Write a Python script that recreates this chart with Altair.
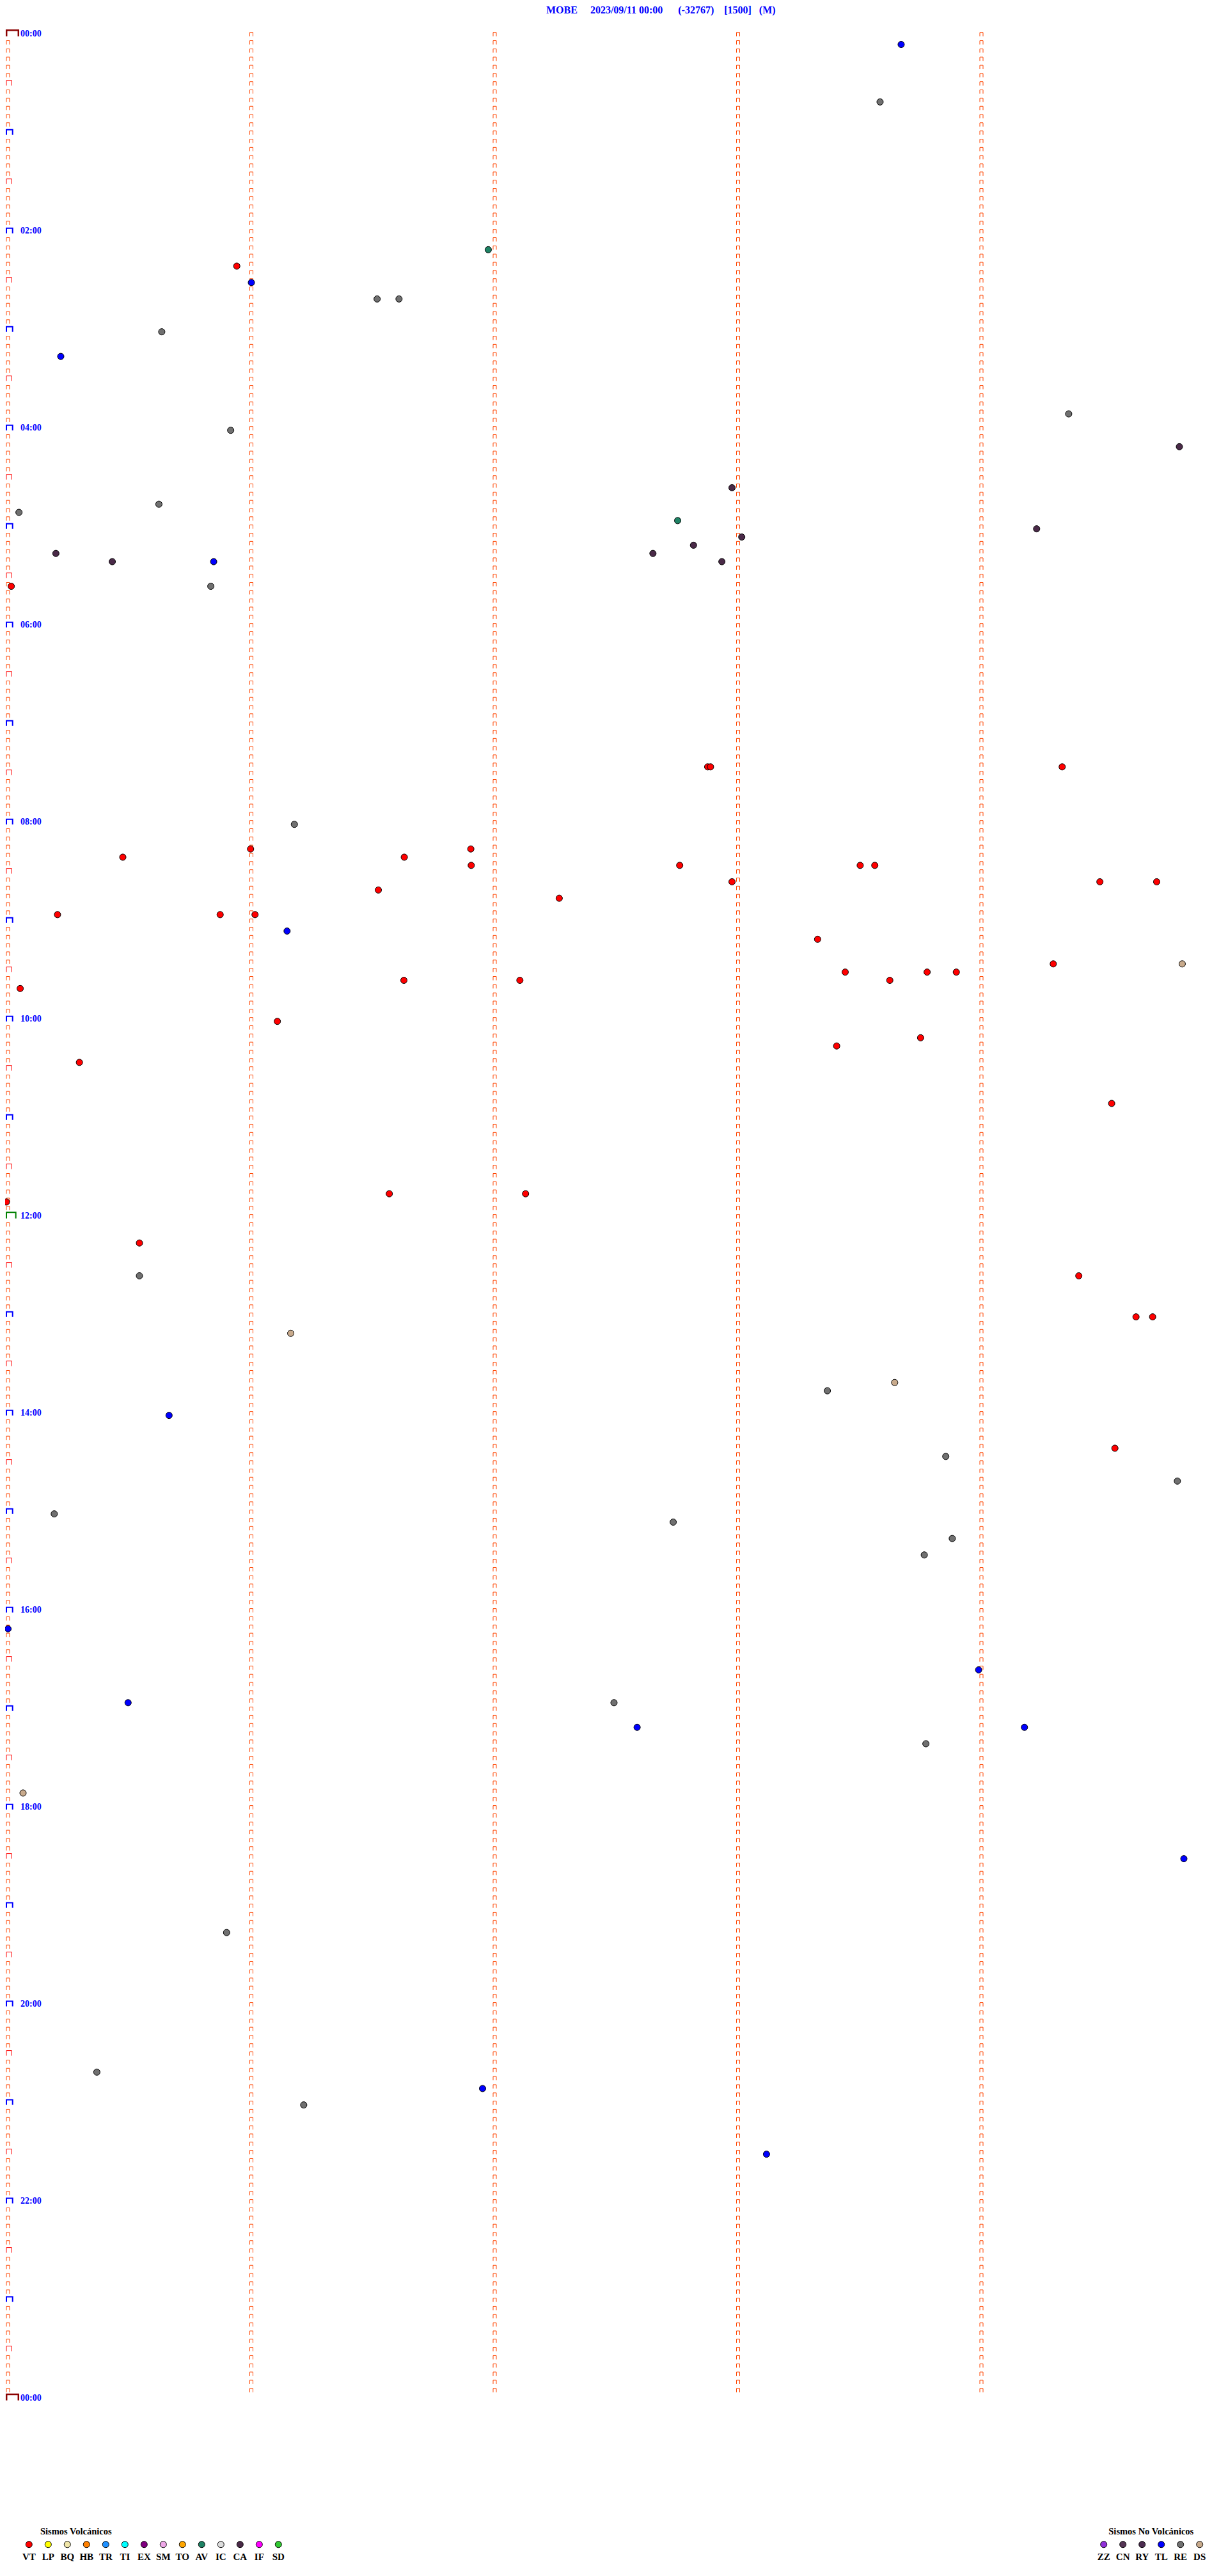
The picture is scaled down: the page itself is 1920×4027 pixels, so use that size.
import altair as alt
import pandas as pd

alt.data_transformers.disable_max_rows()

NB = "\u00a0"
header_parts = ["MOBE", "2023/09/11 00:00", "(-32767)", "[1500]", "(M)"]
header_gaps = [5, 6, 4, 3]

volc_title = "Sismos Volcánicos"
volc_codes = ["VT", "LP", "BQ", "HB", "TR", "TI", "EX", "SM", "TO", "AV", "IC", "CA", "IF", "SD"]
volc_colors = ["#FF0000", "#FFFF00", "#F0E6A8", "#FF8000", "#1E90FF", "#00FFFF", "#800080",
               "#EEA8E8", "#FFA500", "#1E8264", "#DCDCDC", "#4A2A48", "#FF00FF", "#32C832"]
nonv_title = "Sismos No Volcánicos"
nonv_codes = ["ZZ", "CN", "RY", "TL", "RE", "DS"]
nonv_colors = ["#9030D8", "#553555", "#4C2C50", "#0000FF", "#707070", "#C8AA8C"]

hour_labels = ["00:00", "02:00", "04:00", "06:00", "08:00", "10:00", "12:00",
               "14:00", "16:00", "18:00", "20:00", "22:00", "00:00"]

event_times = [
    "00:08:40.6", "00:43:35.4", "02:11:58.8", "02:20:56.8", "02:31:00.4", "02:41:31.4",
    "02:41:36.8", "03:00:38.3", "03:15:13.4", "03:54:21.9", "04:00:55.3", "04:14:49.2",
    "04:37:58.9", "04:45:37.6", "04:50:03.1", "04:57:45.5", "05:04:14.0", "05:08:01.3",
    "05:12:49.4", "05:15:12.2", "05:17:39.4", "05:20:26.1", "05:20:51.1", "05:22:56.4",
    "05:35:01.2", "05:35:50.4", "07:27:52.9", "07:27:53.6", "07:29:20.3", "08:01:11.0",
    "08:16:00.2", "08:16:54.5", "08:20:28.7", "08:21:38.1", "08:26:54.6", "08:27:46.0",
    "08:28:30.5", "08:28:34.1", "08:37:58.9", "08:39:29.6", "08:39:43.6", "08:41:31.7",
    "08:47:16.3", "08:55:12.6", "08:55:52.7", "08:56:01.3", "09:06:09.2", "09:13:20.0",
    "09:29:18.1", "09:29:49.9", "09:33:26.8", "09:33:47.0", "09:33:54.2", "09:36:38.0",
    "09:37:06.6", "09:38:37.8", "09:40:03.4", "10:01:06.8", "10:13:45.4", "10:18:24.7",
    "10:25:18.0", "10:54:32.5", "11:46:34.4", "11:47:08.0", "11:50:00.0", "12:15:32.8",
    "12:39:24.4", "12:35:32.8", "13:04:38.5", "13:04:42.6", "13:11:10.1", "13:43:39.0",
    "13:48:22.4", "14:00:40.1", "14:24:33.3", "14:28:51.6", "14:44:48.7", "15:00:11.8",
    "15:07:44.4", "15:18:53.2", "15:28:46.3", "16:10:00.4", "16:38:59.7", "16:55:30.0",
    "16:57:29.8", "17:12:35.5", "17:14:11.0", "17:23:46.7", "17:50:04.1", "18:34:50.3",
    "19:15:54.3", "20:40:22.3", "20:51:57.4", "21:01:13.3", "21:33:07.4",
]
event_codes = [
    "TL", "RE", "AV", "VT", "TL", "RE",
    "RE", "RE", "TL", "RE", "RE", "CA",
    "CA", "RE", "RE", "AV", "CA", "CA",
    "CA", "CA", "CA", "CA", "TL", "CA",
    "VT", "RE", "VT", "VT", "VT", "RE",
    "VT", "VT", "VT", "VT", "VT", "VT",
    "VT", "VT", "VT", "VT", "VT", "VT",
    "VT", "VT", "VT", "VT", "TL", "VT",
    "VT", "DS", "VT", "VT", "VT", "VT",
    "VT", "VT", "VT", "VT", "VT", "VT",
    "VT", "VT", "VT", "VT", "VT", "VT",
    "VT", "RE", "VT", "VT", "DS", "DS",
    "RE", "TL", "VT", "RE", "RE", "RE",
    "RE", "RE", "RE", "TL", "TL", "TL",
    "RE", "TL", "TL", "RE", "DS", "TL",
    "RE", "RE", "TL", "RE", "TL",
]

MIN_PER_ROW = 5
ROWS = 288
COLS = 5

# ---------- derived tables ----------
def to_minutes(t):
    h, m, s = t.split(":")
    return int(h) * 60 + int(m) + float(s) / 60.0

ev = pd.DataFrame({"time": event_times, "code": event_codes})
ev["minutes"] = ev["time"].map(to_minutes)
ev["row"] = (ev["minutes"] // MIN_PER_ROW).astype(int)
ev["offset"] = ev["minutes"] - ev["row"] * MIN_PER_ROW

small = [{"col": c, "row": r} for c in range(1, COLS) for r in range(ROWS)]
small += [{"col": 0, "row": r} for r in range(1, ROWS) if r % 6 != 0]
half = [{"col": 0, "row": r} for r in range(6, ROWS, 12)]
hourly = [{"col": 0, "row": r} for r in range(12, ROWS, 12) if r != ROWS // 2]
noon = [{"col": 0, "row": ROWS // 2}]
midnight = [{"col": 0, "row": 0}, {"col": 0, "row": ROWS}]
labels = pd.DataFrame({"label": hour_labels, "row": [i * 24 for i in range(len(hour_labels))]})

W, H = 1904, 4000
xs = alt.Scale(domain=[-2 / 380.5, (W - 2) / 380.5], range=[0, W], nice=False, zero=False)
ys = alt.Scale(domain=[-48.7 / 12.833, (H - 48.7) / 12.833], range=[0, H], nice=False, zero=False)
fill_scale = alt.Scale(domain=volc_codes + nonv_codes, range=volc_colors + nonv_colors)

X = alt.X("col:Q", scale=xs, axis=None)
Y = alt.Y("row:Q", scale=ys, axis=None)


def marker_layer(data, path, color, width, dx=2.5):
    return alt.Chart(pd.DataFrame(data)).mark_point(
        shape=path, filled=False, size=4, color=color, strokeWidth=width,
        opacity=1, xOffset=dx, strokeCap="butt"
    ).encode(x=X, y=Y)


small_layer = marker_layer(small, "M-2.5,0L-2.5,-6L2.5,-6L2.5,0", "#FF4500", 1)
half_layer = marker_layer(half, "M-2.5,0L-2.5,-8L5.8,-8L5.8,0", "#FF0000", 1)
hour_layer = marker_layer(hourly, "M-2.5,0L-2.5,-8L7.2,-8L7.2,0", "#0000FF", 2)
noon_layer = marker_layer(noon, "M-2.5,0L-2.5,-9.5L12.2,-9.5L12.2,0", "#008000", 2)
mid_layer = marker_layer(midnight, "M-2.3,0L-2.3,-9.5L16.3,-9.5L16.3,0", "#8B0000", 2.5)

label_layer = alt.Chart(labels).mark_text(
    align="left", baseline="alphabetic", font="Liberation Serif", fontSize=14,
    fontWeight="bold", color="#0000FF"
).encode(x=alt.value(24), y=Y, text="label:N")

event_layer = alt.Chart(ev).mark_point(
    shape="circle", filled=True, size=100, stroke="black", strokeWidth=1, opacity=1
).encode(
    x=alt.X("offset:Q", scale=xs, axis=None),
    y=Y,
    fill=alt.Fill("code:N", scale=fill_scale, legend=None),
)

header = header_parts[0]
for gap, part in zip(header_gaps, header_parts[1:]):
    header += NB * gap + part
header_layer = alt.Chart(pd.DataFrame({"t": [header]})).mark_text(
    align="left", baseline="alphabetic", font="Liberation Serif", fontSize=16,
    fontWeight="bold", color="#0000FF"
).encode(x=alt.value(846), y=alt.value(13), text="t:N")


def legend_layers(codes, x0, x1, title, title_x):
    sc = alt.Scale(type="point", domain=codes, range=[x0, x1], padding=0)
    df = pd.DataFrame({"code": codes})
    dots = alt.Chart(df).mark_point(
        shape="circle", filled=True, size=100, stroke="black", strokeWidth=1, opacity=1
    ).encode(
        x=alt.X("code:N", scale=sc, axis=None),
        y=alt.value(3969.7),
        fill=alt.Fill("code:N", scale=fill_scale, legend=None),
    )
    txt = alt.Chart(df).mark_text(
        align="center", baseline="alphabetic", font="Liberation Serif", fontSize=15,
        fontWeight="bold", color="black"
    ).encode(x=alt.X("code:N", scale=sc, axis=None), y=alt.value(3993.7), text="code:N")
    ttl = alt.Chart(pd.DataFrame({"t": [title]})).mark_text(
        align="left", baseline="alphabetic", font="Liberation Serif", fontSize=14.5,
        fontWeight="bold", color="black"
    ).encode(x=alt.value(title_x), y=alt.value(3953.7), text="t:N")
    return [dots, txt, ttl]


leg_v = legend_layers(volc_codes, 37.3, 427.3, volc_title, 55)
leg_n = legend_layers(nonv_codes, 1717.7, 1867.7, nonv_title, 1725.3)

chart = alt.layer(
    small_layer, half_layer, hour_layer, noon_layer, mid_layer,
    label_layer, event_layer, header_layer, *leg_v, *leg_n
).resolve_scale(
    x="independent", y="independent"
).properties(
    width=W, height=H, autosize=alt.AutoSizeParams(type="none"), padding=0,
    background="white"
).configure_view(strokeWidth=0)

chart.save("out.html", embed_options={"renderer": "svg", "actions": False})
